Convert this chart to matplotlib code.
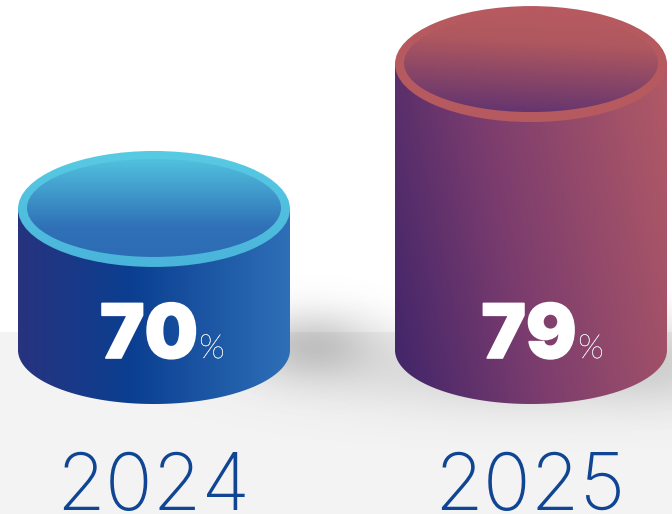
import numpy as np
import matplotlib
matplotlib.use('Agg')
import matplotlib.pyplot as plt
import matplotlib.patheffects as pe
from matplotlib.colors import LinearSegmentedColormap
from matplotlib.patches import Ellipse, Polygon

# chart data
years = ['2024', '2025']
values = [70, 79]

# scales, in pixels
W, H = 672, 514
x0_px, x_step = 154, 377
base_px, y_step = 350, 16.1
base_val = 61.24
rx, ry_top, ry_bottom = 136, 58, 54
rx_in, ry_in = 127, 49

# colours
body_cols = [[(0, '#27337f'), (0.42, '#0b3f91'), (1, '#2e6fb8')],
             [(0, '#3f2469'), (0.42, '#7a3c6e'), (1, '#b25a66')]]
rim_cols = [[(0, '#58cbe4'), (1, '#4ab4da')],
            [(0, '#b65a60'), (1, '#b65a60')]]
inner_cols = [[(0, '#52c2de'), (0.7, '#2f70b7'), (1, '#2d6db5')],
              [(0, '#b65a60'), (0.3, '#b0585f'), (1, '#5f3270')]]
body_ang = [0, -12]
inner_ang = [90, 93]
year_col = '#0f4593'


def px_x(p):
    return (p - x0_px) / x_step


def px_y(p):
    return base_val + (base_px - p) / y_step


def gradient(ax, patch, x1, x2, y1, y2, stops, angle):
    # linear gradient image clipped to a patch, angle 0 = left to right, 90 = top to bottom
    xs, ys = np.meshgrid(np.linspace(0, 1, 300), np.linspace(0, 1, 300))
    a = np.radians(angle)
    u = xs * np.cos(a) * (x2 - x1) + ys * np.sin(a) * (y2 - y1)
    u = (u - u.min()) / (u.max() - u.min())
    cmap = LinearSegmentedColormap.from_list('g', stops)
    im = ax.imshow(u, cmap=cmap, vmin=0, vmax=1, aspect='auto', origin='upper',
                   extent=[px_x(x1), px_x(x2), px_y(y2), px_y(y1)], interpolation='bilinear')
    ax.add_patch(patch)
    patch.set_facecolor('none')
    patch.set_edgecolor('none')
    im.set_clip_path(patch)


def shadow(ax, cx, cy, sx, sy, alpha):
    xs, ys = np.meshgrid(np.arange(W), np.arange(H))
    d = ((xs - cx) / sx) ** 2 + ((ys - cy) / sy) ** 2
    rgba = np.zeros((H, W, 4))
    rgba[..., :3] = 0.35
    rgba[..., 3] = alpha * np.exp(-d / 2)
    ax.imshow(rgba, aspect='auto', origin='upper', extent=[px_x(0), px_x(W), px_y(H), px_y(0)])


fig = plt.figure(figsize=(W / 100, H / 100), dpi=100)
ax = fig.add_axes([0, 0, 1, 1])
ax.axis('off')

# floor and soft shadows
ax.axhspan(px_y(H), px_y(332), color='#f3f3f3', lw=0, zorder=-1)
shadow(ax, 312, 345, 45, 24, 0.30)
shadow(ax, 540, 372, 150, 28, 0.20)
shadow(ax, 660, 350, 35, 30, 0.12)

for i, (year, val) in enumerate(zip(years, values)):
    cx = x0_px + i * x_step
    # top of the can in pixels comes from the value through the y scale
    top_px = base_px - (val - base_val) * y_step

    # body
    th = np.linspace(0, np.pi, 200)
    arc_x = px_x(cx) + rx / x_step * np.cos(th)
    arc_y = px_y(base_px) - ry_bottom / y_step * np.sin(th)
    body_xy = np.column_stack([np.r_[arc_x, px_x(cx - rx), px_x(cx + rx)],
                               np.r_[arc_y, val, val]])
    body = Polygon(body_xy, closed=True)
    gradient(ax, body, cx - rx, cx + rx, top_px, base_px + ry_bottom, body_cols[i], body_ang[i])

    # rim
    rim = Ellipse((px_x(cx), val), 2 * rx / x_step, 2 * ry_top / y_step)
    gradient(ax, rim, cx - rx, cx + rx, top_px - ry_top, top_px + ry_top, rim_cols[i], 90)

    # inner surface
    inner = Ellipse((px_x(cx), px_y(top_px - 1)), 2 * rx_in / x_step, 2 * ry_in / y_step)
    gradient(ax, inner, cx - rx_in, cx + rx_in, top_px - 1 - ry_in, top_px - 1 + ry_in,
             inner_cols[i], inner_ang[i])

    # labels
    ax.text(px_x(cx - 5 + i * 3), px_y(358), str(val), color='white', fontsize=54, family='Inter',
            fontweight='black', ha='center', va='baseline',
            path_effects=[pe.withStroke(linewidth=1.2, foreground='white')])
    ax.text(px_x(cx + 58 + i * 2), px_y(358), '%', color='#e8e8ef', fontsize=24, family='Lato',
            fontweight='light', ha='center', va='baseline',
            path_effects=[pe.withStroke(linewidth=0.3, foreground='#e8e8ef')])
    ax.text(px_x(cx - 1), px_y(510), year, color=year_col, fontsize=57, family='Inter',
            fontweight='light', ha='center', va='baseline')

ax.set_xlim(px_x(0), px_x(W))
ax.set_ylim(px_y(H), px_y(0))

fig.savefig('out.png', dpi=100, facecolor='white')
